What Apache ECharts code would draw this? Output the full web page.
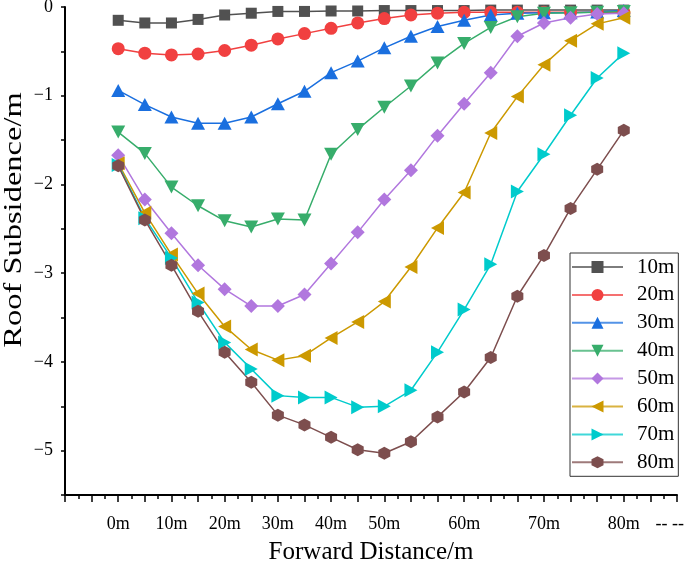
<!DOCTYPE html>
<html>
<head>
<meta charset="utf-8">
<script src="https://cdn.jsdelivr.net/npm/echarts@6/dist/echarts.min.js"></script>
<style>
    html, body { margin: 0; padding: 0; background: #fff; }
    #main { width: 685px; height: 564px; }
</style>
</head>
<body>
<div id="main"></div>
<script>
    // measuring stations along the face (index on the x axis)
    const stations = [0, 1, 2, 3, 4, 5, 6, 7, 8, 9, 10, 11, 12, 13, 14, 15, 16, 17, 18, 19]
    // which stations carry a distance label
    const labelStations = [0, 2, 4, 6, 8, 10, 13, 16, 19]
    const labelText = ['0m', '10m', '20m', '30m', '40m', '50m', '60m', '70m', '80m']

    const seriesNames = ['10m', '20m', '30m', '40m', '50m', '60m', '70m', '80m']

    const sub10 = [-0.15, -0.18, -0.18, -0.14, -0.09, -0.07, -0.05, -0.05, -0.045, -0.045, -0.04, -0.04, -0.04, -0.04, -0.035, -0.035, -0.035, -0.035, -0.035, -0.035]
    const sub20 = [-0.47, -0.52, -0.54, -0.53, -0.49, -0.43, -0.36, -0.30, -0.24, -0.18, -0.13, -0.09, -0.07, -0.06, -0.06, -0.06, -0.06, -0.06, -0.06, -0.06]
    const sub30 = [-0.94, -1.10, -1.24, -1.31, -1.31, -1.24, -1.09, -0.95, -0.74, -0.61, -0.46, -0.33, -0.22, -0.15, -0.09, -0.07, -0.065, -0.065, -0.055, -0.04]
    const sub40 = [-1.41, -1.65, -2.03, -2.24, -2.41, -2.48, -2.39, -2.40, -1.66, -1.38, -1.13, -0.89, -0.63, -0.41, -0.23, -0.11, -0.07, -0.065, -0.06, -0.05]
    const sub50 = [-1.67, -2.17, -2.55, -2.91, -3.18, -3.37, -3.37, -3.24, -2.89, -2.54, -2.17, -1.84, -1.45, -1.09, -0.74, -0.33, -0.18, -0.12, -0.08, -0.07]
    const sub60 = [-1.76, -2.32, -2.79, -3.23, -3.60, -3.86, -3.98, -3.93, -3.73, -3.55, -3.32, -2.93, -2.49, -2.09, -1.42, -1.01, -0.65, -0.38, -0.19, -0.12]
    const sub70 = [-1.78, -2.38, -2.83, -3.33, -3.78, -4.08, -4.38, -4.40, -4.40, -4.51, -4.50, -4.32, -3.89, -3.41, -2.90, -2.08, -1.66, -1.22, -0.80, -0.52]
    const sub80 = [-1.79, -2.40, -2.91, -3.43, -3.89, -4.23, -4.60, -4.71, -4.85, -4.99, -5.03, -4.90, -4.62, -4.34, -3.95, -3.26, -2.80, -2.27, -1.83, -1.39]

    const allValues = [sub10, sub20, sub30, sub40, sub50, sub60, sub70, sub80]

    const colors = ['#515151', '#F14040', '#1A6FDF', '#37AD6B', '#B177DE', '#CC9900', '#00CBCC', '#7D4E4E']
    const symbols = [
        'rect',
        'circle',
        'triangle',
        'path://M0,0L10,0L5,9Z',
        'diamond',
        'path://M0,5L9,0L9,10Z',
        'path://M0,0L9,5L0,10Z',
        'path://M5,0L9.33,2.5L9.33,7.5L5,10L0.67,7.5L0.67,2.5Z'
    ]
    const symbolSizes = [11, 13, [14, 13], [14, 13], [14, 14], [13, 14], [13, 14], [12, 13]]

    const font = '"Liberation Serif", "Times New Roman", serif'

    let series = allValues.map((vals, k) => {
        return {
            name: seriesNames[k],
            type: 'line',
            data: stations.map((s, i) => [s, vals[i]]),
            symbol: symbols[k],
            symbolSize: symbolSizes[k],
            color: colors[k],
            lineStyle: { width: 1.5 },
            itemStyle: { opacity: 1 },
            emphasis: { disabled: true },
            animation: false
        }
    })

    let option = {
        backgroundColor: '#fff',
        animation: false,
        grid: {
            left: 65,
            right: 8,
            top: 7,
            bottom: 69,
            containLabel: false,
            outerBoundsMode: 'none'
        },
        legend: {
            orient: 'vertical',
            left: 570,
            top: 253,
            padding: [3, 4, 3, 1],
            itemWidth: 51,
            itemHeight: 15,
            itemGap: 5.9,
            borderColor: '#333',
            borderWidth: 1,
            lineStyle: { opacity: 0.75 },
            textStyle: {
                fontFamily: font,
                fontSize: 21,
                lineHeight: 22,
                color: '#000',
                padding: [0, 0, 0, 9]
            },
            data: seriesNames
        },
        xAxis: {
            type: 'value',
            min: -2,
            max: 21,
            interval: 1,
            name: 'Forward Distance/m',
            nameLocation: 'middle',
            nameGap: 45,
            nameTextStyle: { fontFamily: font, fontSize: 25, color: '#000' },
            splitLine: { show: false },
            axisLine: { onZero: false, lineStyle: { color: '#000', width: 2 } },
            axisTick: { length: 7, lineStyle: { color: '#000', width: 1.5 } },
            minorTick: { show: true, splitNumber: 2, length: 4, lineStyle: { color: '#000', width: 1.5 } },
            axisLabel: {
                margin: 20,
                fontFamily: font,
                fontSize: 18,
                color: '#000',
                formatter: v => {
                    let k = labelStations.indexOf(v)
                    return k >= 0 ? labelText[k] : ''
                }
            }
        },
        yAxis: {
            type: 'value',
            min: -5.5,
            max: 0,
            interval: 0.5,
            splitLine: { show: false },
            axisLine: { show: true, onZero: false, lineStyle: { color: '#000', width: 2 } },
            axisTick: { length: 4, lineStyle: { color: '#000', width: 1.5 } },
            axisLabel: {
                margin: 12,
                fontFamily: font,
                fontSize: 18,
                color: '#000',
                formatter: v => {
                    if (Math.abs(v - Math.round(v)) > 1e-6) return ''
                    let n = Math.round(v)
                    return n < 0 ? '\u2212' + (-n) : String(n)
                }
            }
        },
        graphic: [{
            // y axis title, stretched along its reading direction like the source figure
            type: 'text',
            x: 14,
            y: 220,
            rotation: Math.PI / 2,
            scaleX: 1.3,
            style: {
                text: 'Roof Subsidence/m',
                fontFamily: font,
                fontSize: 25,
                fill: '#000',
                align: 'center',
                verticalAlign: 'middle'
            }
        }, {
            type: 'text',
            right: 1,
            top: 515,
            style: { text: '-- --', fontFamily: font, fontSize: 18, fill: '#000' }
        }],
        series: series
    }

    let chart = echarts.init(document.getElementById('main'))
    chart.setOption(option)
</script>
</body>
</html>
